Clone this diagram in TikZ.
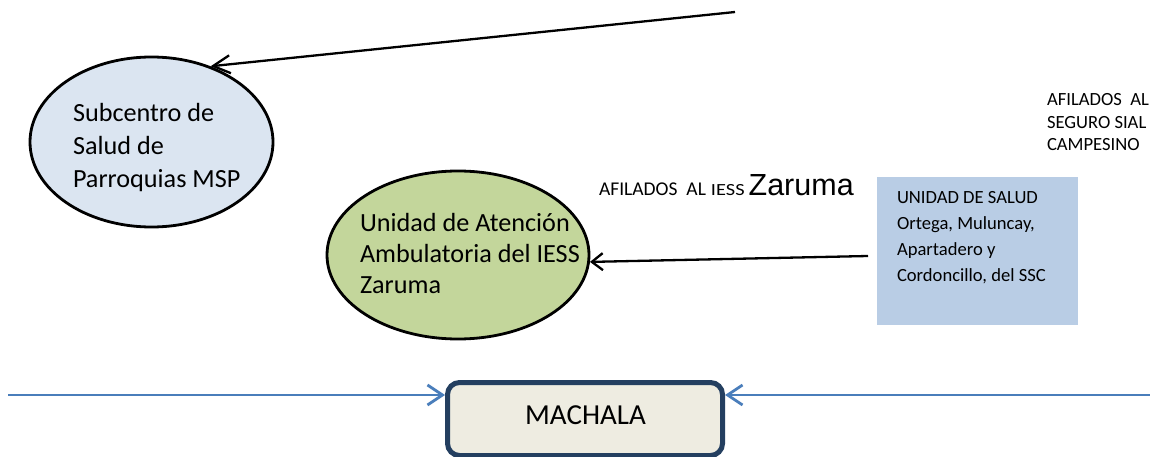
\documentclass[tikz,border=0pt]{standalone}
\usepackage{fontspec}
\setmainfont{Carlito}
\newfontfamily\arialfont{Liberation Sans}
\usetikzlibrary{arrows.meta,shapes.geometric}
\definecolor{ellblue}{HTML}{DBE5F1}
\definecolor{ellgreen}{HTML}{C3D69B}
\definecolor{boxblue}{HTML}{B9CDE5}
\definecolor{machfill}{HTML}{EEECE1}
\definecolor{machdraw}{HTML}{243F60}
\definecolor{lineblue}{HTML}{4A7EBB}
\begin{document}
\begin{tikzpicture}[x=1pt,y=-1pt,
  oval/.style={ellipse, draw=black, line width=2.8pt, inner sep=0},
  txt/.style={anchor=base west, inner sep=0, outer sep=0},
  big/.style={font=\fontsize{26.2}{31}\selectfont},
  small/.style={font=\fontsize{18.6}{22}\selectfont},
  blackarrow/.style={draw=black, line width=2.3pt},
  bluearrow/.style={draw=lineblue, line width=2.8pt, -{Straight Barb[length=15pt,width=20pt]}},
]
\fill[white] (0,0) rectangle (1150,457);
\useasboundingbox (0,0) rectangle (1150,457);

\node[oval, fill=ellblue, minimum width=243pt, minimum height=170pt] (msp) at (151.5,142) {};
\node[oval, fill=ellgreen, minimum width=262pt, minimum height=168pt] (iess) at (458,255) {};
\node[fill=boxblue, minimum width=201pt, minimum height=148pt, inner sep=0, anchor=north west] (ssc) at (877,177) {};
\node[draw=machdraw, line width=5pt, fill=machfill, rounded corners=12pt, minimum width=275pt, minimum height=73pt, inner sep=0] (machala) at (585,419) {};

\node[txt,big] (m1) at (73,122) {Subcentro de};
\node[txt,big] (m2) at (73,155) {Salud de};
\node[txt,big] (m3) at (73,187.5) {Parroquias MSP};

\node[txt,big] (g1) at (360,231.5) {Unidad de Atención};
\node[txt,big] (g2) at (360,262.5) {Ambulatoria del IESS};
\node[txt,big] (g3) at (360,293.5) {Zaruma};

\node[txt,small] (c1) at (1047,105.7) {AFILADOS\ \ AL};
\node[txt,small] (c2) at (1047,128.3) {SEGURO SIAL};
\node[txt,small] (c3) at (1047,151) {CAMPESINO};

\node[txt,small] (s1) at (897,203.3) {UNIDAD DE SALUD};
\node[txt,small] (s2) at (897,229) {Ortega, Muluncay,};
\node[txt,small] (s3) at (897,255) {Apartadero y};
\node[txt,small] (s4) at (897,281) {Cordoncillo, del SSC};

\node[txt,font=\fontsize{19.5}{22}\selectfont] (af) at (599,195) {AFILADOS\hspace{9pt}AL\hspace{5pt}{\fontsize{17}{18}\selectfont\scalebox{1.2}[1]{IESS}}\hspace{4pt}{\arialfont\fontsize{30.5}{33}\selectfont Zaruma}};

\node[anchor=base, inner sep=0, font=\fontsize{29}{33}\selectfont] (mtxt) at (585.5,424) {MACHALA};

\coordinate (a1s) at (735,12);
\coordinate (a2s) at (868,256);
\draw[blackarrow, -{Straight Barb[length=17pt,width=18pt]}] (a1s) -- (msp.52.5);
\draw[blackarrow, -{Straight Barb[length=11pt,width=17pt]}] (a2s) -- (iess.-3.5);

\coordinate (ls) at (8,395);
\coordinate (rs) at (1150,395);
\draw[bluearrow] (ls) -- (ls -| machala.west);
\draw[bluearrow] (rs) -- (rs -| machala.east);
\end{tikzpicture}
\end{document}
